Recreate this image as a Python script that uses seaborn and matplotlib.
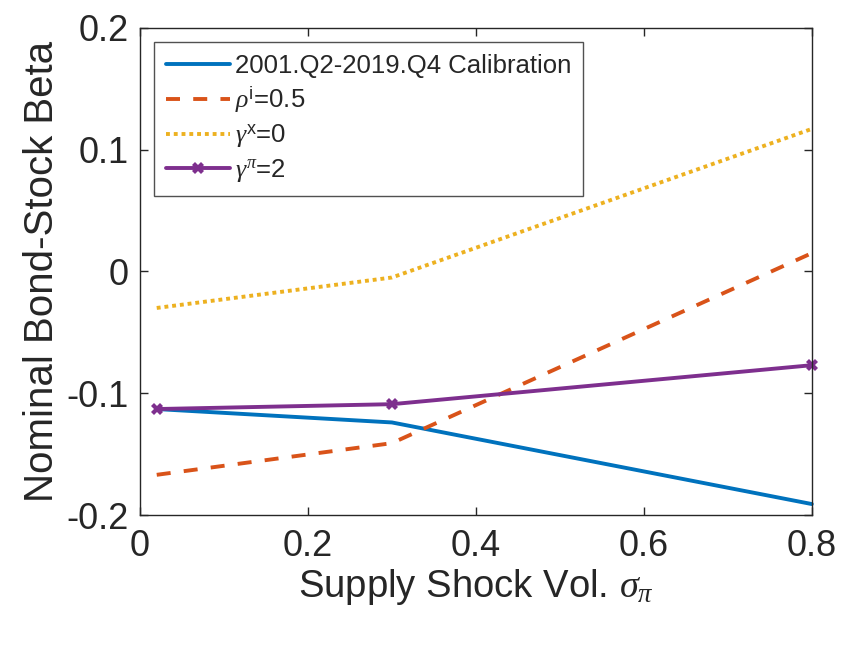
import matplotlib
matplotlib.use("Agg")
import matplotlib.pyplot as plt
import numpy as np
import pandas as pd
import seaborn as sns

# values
sigma_pi = [0.02, 0.3, 0.8]
beta_calib = [-0.113, -0.124, -0.191]
beta_rho = [-0.167, -0.141, 0.015]
beta_gamma_x = [-0.030, -0.005, 0.117]
beta_gamma_pi = [-0.113, -0.109, -0.077]

labels = [
    "2001.Q2-2019.Q4 Calibration",
    r"$\rho^{\mathrm{i}}$=0.5",
    r"$\gamma^{\mathrm{x}}$=0",
    r"$\gamma^{\pi}$=2",
]
series = [beta_calib, beta_rho, beta_gamma_x, beta_gamma_pi]
colors = ["#0072BD", "#D95319", "#EDB120", "#7E2F8E"]
styles = [("-", None), ((0, (3.6, 3.4)), None), ((0, (1, 1)), None), ("-", "X")]

sns.set_style("ticks")
plt.rcParams["font.family"] = ["Liberation Sans", "DejaVu Sans"]
plt.rcParams["axes.unicode_minus"] = False
plt.rcParams["mathtext.fontset"] = "custom"
plt.rcParams["mathtext.rm"] = "Liberation Sans"
plt.rcParams["mathtext.it"] = "Liberation Serif:italic"

fig = plt.figure(figsize=(8.43, 6.47), dpi=100)
ax = fig.add_axes([0.166, 0.204, 0.797, 0.753])

for lab, vals, col, (ls, mk) in zip(labels, series, colors, styles):
    df = pd.DataFrame({"x": sigma_pi, "y": vals})
    sns.lineplot(
        data=df, x="x", y="y", ax=ax, color=col, linestyle=ls,
        linewidth=2.8, marker=mk, markersize=9, markeredgewidth=0,
        label=lab, clip_on=False,
    )

ax.set_xlim(0, 0.8)
ax.set_ylim(-0.2, 0.2)
ax.set_xticks([0, 0.2, 0.4, 0.6, 0.8])
ax.set_xticklabels(["0", "0.2", "0.4", "0.6", "0.8"])
ax.set_yticks([-0.2, -0.1, 0, 0.1, 0.2])
ax.set_yticklabels(["-0.2", "-0.1", "0", "0.1", "0.2"])
ax.tick_params(direction="in", length=6, width=1, colors="#262626",
               labelsize=26, top=True, right=True)
ax.tick_params(axis="x", pad=10)
ax.tick_params(axis="y", pad=8)
for sp in ax.spines.values():
    sp.set_color("#262626")
    sp.set_linewidth(1)
    sp.set_visible(True)

ax.set_xlabel(r"Supply Shock Vol. $\sigma_{\pi}$", fontsize=27.5, color="#262626", labelpad=2)
ax.set_ylabel("Nominal Bond-Stock Beta", fontsize=29, color="#262626", labelpad=4)

leg = ax.legend(loc="upper left", fontsize=18.5, frameon=True, fancybox=False,
                edgecolor="#262626", handlelength=2.5, borderaxespad=0.55,
                labelspacing=0.28, handletextpad=0.2, borderpad=0.45)
leg.get_frame().set_linewidth(1)

fig.savefig("out.png", dpi=100)
